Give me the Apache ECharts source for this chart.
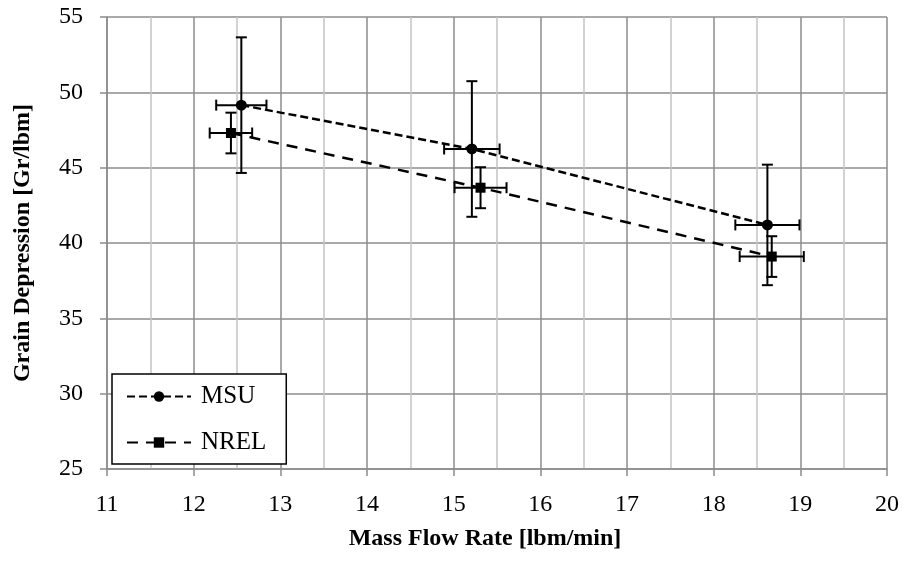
<!DOCTYPE html>
<html>
<head>
<meta charset="utf-8">
<script src="https://cdn.jsdelivr.net/npm/echarts@6/dist/echarts.min.js"></script>
<style>
  html, body { margin: 0; padding: 0; background: #ffffff; }
  #chart { width: 904px; height: 561px; }
</style>
</head>
<body>
<div id="chart"></div>
<script>
// Axis ranges: [min, max, step]
const xRange = [11, 20, 1];
const yRange = [25, 55, 5];

// MSU measurements: mass flow rate, grain depression and their uncertainties
const msuX    = [12.55, 15.21, 18.62];
const msuY    = [49.15, 46.24, 41.2];
const msuXErr = [0.29, 0.32, 0.37];
const msuYErr = [4.5, 4.5, 4.0];

// NREL measurements
const nrelX    = [12.43, 15.31, 18.67];
const nrelY    = [47.3, 43.67, 39.1];
const nrelXErr = [0.245, 0.30, 0.37];
const nrelYErr = [1.35, 1.36, 1.35];

const FONT = 'Liberation Serif';
const GRID_MAJOR = '#8c8c8c';
const GRID_MINOR = '#c4c4c4';

function pairs(xs, ys) {
  return xs.map((x, i) => [x, ys[i]]);
}

// Error bars in both directions, drawn from data through the axis scales
function errorBars(name, xs, ys, xe, ye) {
  return {
    type: 'custom',
    name: name,
    silent: true,
    z: 3,
    data: xs.map((x, i) => [x, ys[i], xe[i], ye[i]]),
    encode: { x: 0, y: 1 },
    renderItem: function (params, api) {
      const x = api.value(0), y = api.value(1);
      const dx = api.value(2), dy = api.value(3);
      const top = api.coord([x, y + dy]);
      const bot = api.coord([x, y - dy]);
      const lft = api.coord([x - dx, y]);
      const rgt = api.coord([x + dx, y]);
      const cap = 5.5;
      const style = { stroke: '#000', lineWidth: 2, fill: null };
      const seg = (x1, y1, x2, y2) => ({ type: 'line', shape: { x1, y1, x2, y2 }, style });
      return {
        type: 'group',
        children: [
          seg(top[0], top[1], bot[0], bot[1]),
          seg(top[0] - cap, top[1], top[0] + cap, top[1]),
          seg(bot[0] - cap, bot[1], bot[0] + cap, bot[1]),
          seg(lft[0], lft[1], rgt[0], rgt[1]),
          seg(lft[0], lft[1] - cap, lft[0], lft[1] + cap),
          seg(rgt[0], rgt[1] - cap, rgt[0], rgt[1] + cap)
        ]
      };
    }
  };
}

const chart = echarts.init(document.getElementById('chart'), null, { renderer: 'canvas' });

chart.setOption({
  animation: false,
  backgroundColor: '#ffffff',
  textStyle: { fontFamily: FONT, color: '#000' },
  grid: { left: 107, right: 17, top: 17, bottom: 92, containLabel: false },
  xAxis: {
    type: 'value',
    min: xRange[0], max: xRange[1], interval: xRange[2],
    name: 'Mass Flow Rate [lbm/min]',
    nameLocation: 'middle',
    nameGap: 58,
    nameTextStyle: {
      fontFamily: FONT, fontSize: 24, fontWeight: 'bold', color: '#000',
      padding: [0, 24, 0, 0]
    },
    axisLine: { show: true, lineStyle: { color: GRID_MAJOR, width: 1.5 } },
    axisTick: { show: true, length: 7, lineStyle: { color: GRID_MAJOR, width: 1.5 } },
    axisLabel: { fontFamily: FONT, fontSize: 24, color: '#000', margin: 24 },
    splitLine: { show: true, lineStyle: { color: GRID_MAJOR, width: 1.5 } },
    minorTick: { show: false, splitNumber: 2 },
    minorSplitLine: { show: true, lineStyle: { color: GRID_MINOR, width: 1.5 } }
  },
  yAxis: {
    type: 'value',
    min: yRange[0], max: yRange[1], interval: yRange[2],
    name: 'Grain Depression [Gr/lbm]',
    nameLocation: 'middle',
    nameGap: 72,
    nameRotate: 90,
    nameTextStyle: { fontFamily: FONT, fontSize: 24, fontWeight: 'bold', color: '#000' },
    axisLine: { show: true, lineStyle: { color: GRID_MAJOR, width: 1.5 } },
    axisTick: { show: true, length: 7, lineStyle: { color: GRID_MAJOR, width: 1.5 } },
    axisLabel: { fontFamily: FONT, fontSize: 24, color: '#000', margin: 24 },
    splitLine: { show: true, lineStyle: { color: GRID_MAJOR, width: 1.5 } }
  },
  legend: {
    data: ['MSU', 'NREL'],
    orient: 'vertical',
    left: 112,
    top: 374,
    itemWidth: 64,
    itemHeight: 13,
    itemGap: 21,
    padding: [10, 20, 9, 14],
    backgroundColor: '#ffffff',
    borderColor: '#000000',
    borderWidth: 1.5,
    borderRadius: 0,
    textStyle: { fontFamily: FONT, fontSize: 25, color: '#000', padding: [0, 0, 0, 5] }
  },
  series: [
    errorBars('MSU error', msuX, msuY, msuXErr, msuYErr),
    errorBars('NREL error', nrelX, nrelY, nrelXErr, nrelYErr),
    {
      type: 'line',
      name: 'MSU',
      data: pairs(msuX, msuY),
      z: 4,
      symbol: 'circle',
      symbolSize: 11,
      itemStyle: { color: '#000' },
      lineStyle: { color: '#000', width: 2.5, type: [8, 4] }
    },
    {
      type: 'line',
      name: 'NREL',
      data: pairs(nrelX, nrelY),
      z: 4,
      symbol: 'rect',
      symbolSize: 10,
      itemStyle: { color: '#000' },
      lineStyle: { color: '#000', width: 2.5, type: [11, 8] }
    }
  ]
});
</script>
</body>
</html>
